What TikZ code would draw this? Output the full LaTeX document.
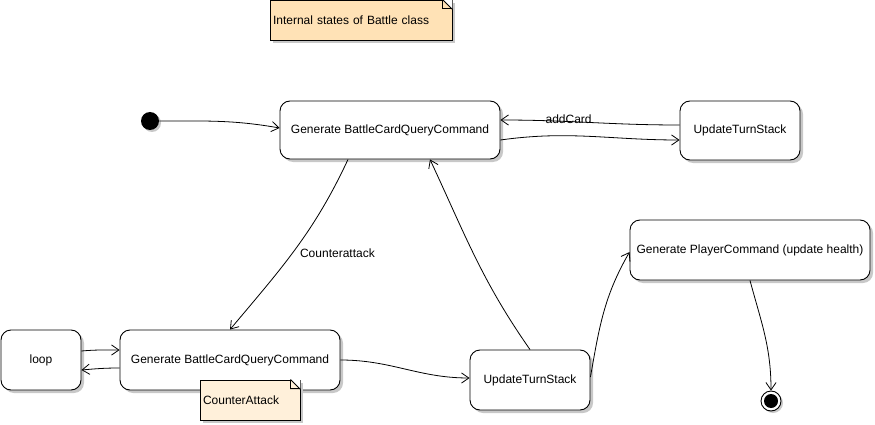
\documentclass[tikz,border=0pt]{standalone}
\usepackage{fontspec}
\setmainfont{Liberation Sans}
\usepackage{tikz}
\usetikzlibrary{calc, shadows}
\usetikzlibrary{arrows.meta}
\tikzset{>={Straight Barb[width=3.6mm,length=2.6mm]}}
\definecolor{notefill}{RGB}{255,226,182}
\definecolor{notelight}{RGB}{255,240,218}
\definecolor{shade}{RGB}{200,200,200}

\begin{document}
\begin{tikzpicture}[
    x = 1pt, y = -1pt,
    font = \fontsize{12}{14}\selectfont,
    line width = 0.9pt,
    state/.style = {draw, fill=white, rounded corners=10pt, align=center,
        drop shadow={shadow xshift=3pt, shadow yshift=-3pt, fill=shade, opacity=1}},
    note/.style = {draw, inner xsep=3pt, align=left,
        drop shadow={shadow xshift=3pt, shadow yshift=-3pt, fill=shade, opacity=1}},
    edge/.style = {->, line width=0.8pt}
  ]
  \useasboundingbox (0,0) rectangle (875,425);

  \node[note, fill=notefill, minimum width=182, minimum height=40, text width=176] (title) at (361,20) {Internal states of Battle class};
  \fill[white] ($(title.north east)+(-10,0)$) -- (title.north east) -- ($(title.north east)+(0,10)$) -- cycle;
  \draw ($(title.north east)+(-10,0)$) -- ($(title.north east)+(0,10)$)
        ($(title.north east)+(-10,0)$) -- ($(title.north east)+(-10,9)$) -- ($(title.north east)+(0,9)$);

  \node[circle, fill=black, minimum size=18, inner sep=0pt,
        drop shadow={shadow xshift=2pt, shadow yshift=-2pt, fill=shade, opacity=1}] (init) at (150,121) {};

  \node[state, minimum width=220, minimum height=58] (gen) at (390,130) {Generate BattleCardQueryCommand};
  \node[state, minimum width=120, minimum height=59] (upd) at (740,130.5) {UpdateTurnStack};
  \node[state, minimum width=80, minimum height=60] (loop) at (41,360) {loop};
  \node[state, minimum width=220, minimum height=60] (counter) at (230,360) {Generate BattleCardQueryCommand};
  \node[state, minimum width=120, minimum height=60] (updlow) at (530,380) {UpdateTurnStack};
  \node[state, minimum width=240, minimum height=60] (player) at (750,250) {Generate PlayerCommand (update health)};

  \node[note, fill=notelight, minimum width=100, minimum height=40, text width=94] (ca) at (250,400) {CounterAttack};
  \fill[white] ($(ca.north east)+(-10,0)$) -- (ca.north east) -- ($(ca.north east)+(0,10)$) -- cycle;
  \draw ($(ca.north east)+(-10,0)$) -- ($(ca.north east)+(0,10)$)
        ($(ca.north east)+(-10,0)$) -- ($(ca.north east)+(-10,9)$) -- ($(ca.north east)+(0,9)$);

  \node[circle, draw, fill=white, minimum size=20, inner sep=0pt,
        drop shadow={shadow xshift=2pt, shadow yshift=-2pt, fill=shade, opacity=1}] (final) at (771,401) {};
  \node[circle, fill=black, minimum size=14, inner sep=0pt] (finaldot) at (final) {};

  \draw[edge] (init) to[out=0, in=170] ([yshift=2]gen.west);
  \draw[edge] ([yshift=5.5]upd.west) to[out=180, in=0]
      node[pos=0.63, above, inner sep=0pt, yshift=-2] {addCard} ([yshift=10]gen.east);
  \draw[edge] ([yshift=-10]gen.east) to[out=8, in=180] ([yshift=-9.5]upd.west);
  \draw[edge] ([xshift=-42]gen.south) to[out=-115, in=50]
      node[pos=0.5, anchor=west, inner sep=0pt, xshift=4, yshift=-4] {Counterattack} (counter.north);
  \draw[edge] (updlow.north) to[out=125, in=-65] ([xshift=40]gen.south);
  \draw[edge] ([yshift=9]loop.east) to[out=5, in=180] ([yshift=10]counter.west);
  \draw[edge] ([yshift=-8]counter.west) to[out=180, in=5] ([yshift=-10]loop.east);
  \draw[edge] (counter.east) to[out=0, in=180] ([yshift=2]updlow.west);
  \draw[edge] ([yshift=3]updlow.east) to[out=80, in=-120] ([yshift=-2]player.west);
  \draw[edge] (player.south) to[out=-75, in=90] (final.north);
\end{tikzpicture}
\end{document}
